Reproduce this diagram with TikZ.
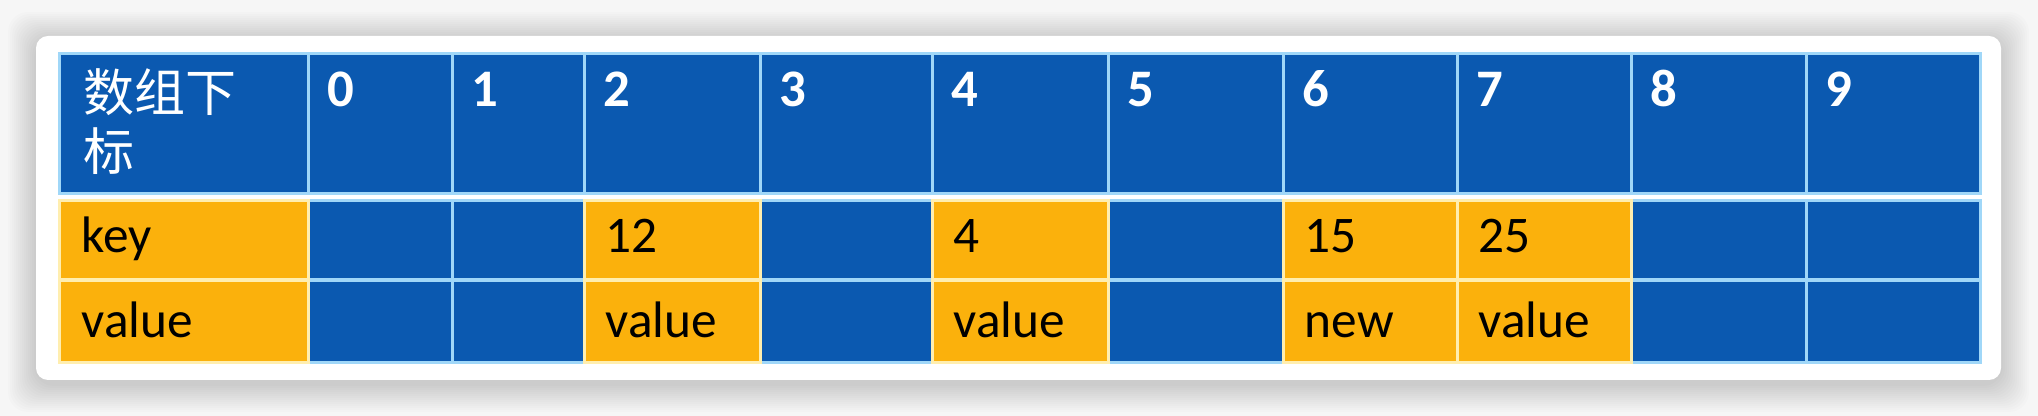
\documentclass[tikz,border=0pt]{standalone}
\usepackage{fontspec}
\setmainfont{Carlito}
\newfontfamily\cjk{Noto Sans CJK SC}
\usetikzlibrary{positioning}

\definecolor{cellblue}{RGB}{11,89,176}
\definecolor{cellorange}{RGB}{251,177,12}
\definecolor{lineblue}{RGB}{160,215,248}
\definecolor{lineorange}{RGB}{255,238,175}
\definecolor{pagegray}{RGB}{246,246,246}

\def\cardbox{(36,36) rectangle (2001,380)}

\begin{document}
\begin{tikzpicture}[x=0.01cm, y=-0.01cm,
    cell/.style={rectangle, anchor=north west, inner sep=0pt, line width=0.8pt},
    bluecell/.style={cell, fill=cellblue, draw=lineblue},
    orangecell/.style={cell, fill=cellorange, draw=lineorange},
    headtext/.style={anchor=base west, inner sep=0pt, text=white, font=\bfseries\fontsize{15}{18}\selectfont},
    celltext/.style={anchor=base west, inner sep=0pt, font=\fontsize{14.6}{17}\selectfont}]

    \useasboundingbox[fill=pagegray] (0,0) rectangle (2038,416);

    % soft shadow round the card, then the card itself
    \foreach \s in {1,...,14}
      \fill[black, opacity=0.01, rounded corners=0.2cm]
        (36-\s*2, 36-\s*2+4) rectangle (2001+\s*2, 380+\s*2+4);
    \fill[white, rounded corners=0.12cm] \cardbox;

    % header row: index of the array
    \node[bluecell, minimum width=2.49cm, minimum height=1.4cm] (head) at (58,52) {};
    \node[anchor=base west, inner sep=0pt, text=white, font=\cjk\fontsize{14.5}{17}\selectfont] (title) at (83,112) {数组下};
    \node[anchor=base west, inner sep=0pt, text=white, font=\cjk\fontsize{14.5}{17}\selectfont] (title2) at (83,171) {标};
    \foreach \n/\x/\w in {0/307/144, 1/451/132, 2/583/176, 3/759/172, 4/931/176,
                          5/1107/175, 6/1282/174, 7/1456/174, 8/1630/175, 9/1805/174} {
      \node[bluecell, minimum width=\w*0.01cm, minimum height=1.4cm] (h\n) at (\x,52) {};
      \node[headtext] (i\n) at (\x+20,107) {\n};
    }

    % empty slots
    \foreach \n/\x/\w in {0/307/144, 1/451/132, 3/759/172, 5/1107/175, 8/1630/175, 9/1805/174} {
      \node[bluecell, minimum width=\w*0.01cm, minimum height=0.79cm] (k\n) at (\x,199) {};
      \node[bluecell, minimum width=\w*0.01cm, minimum height=0.82cm] (v\n) at (\x,279) {};
    }

    % filled slots
    \node[orangecell, minimum width=2.49cm, minimum height=0.79cm] (key) at (58,199) {};
    \node[orangecell, minimum width=2.49cm, minimum height=0.82cm] (value) at (58,279) {};
    \node[celltext] (keytext) at (81,253) {key};
    \node[celltext] (valuetext) at (81,338) {value};
    \foreach \n/\x/\w/\k/\v in {2/583/176/12/value, 4/931/176/4/value,
                                6/1282/174/15/new, 7/1456/174/25/value} {
      \node[orangecell, minimum width=\w*0.01cm, minimum height=0.79cm] (k\n) at (\x,199) {};
      \node[orangecell, minimum width=\w*0.01cm, minimum height=0.82cm] (v\n) at (\x,279) {};
      \node[celltext] (kt\n) at (\x+22,253) {\k};
      \node[celltext] (vt\n) at (\x+22,338) {\v};
    }

\end{tikzpicture}
\end{document}
